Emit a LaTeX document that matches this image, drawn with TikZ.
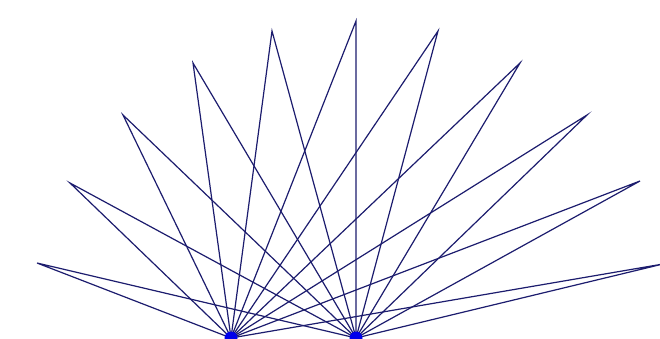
\documentclass[tikz,border=0pt]{standalone}
\definecolor{linecol}{RGB}{28,28,110}
\definecolor{dotcol}{RGB}{0,0,235}
\tikzset{
  ray/.style={draw=linecol, line width=1.2pt},
  basedot/.style={circle, fill=dotcol, inner sep=0pt, minimum size=13pt}
}
\begin{document}
\begin{tikzpicture}[x=1pt,y=-1pt]
\useasboundingbox (0,0) rectangle (660,339);
\fill[white] (0,0) rectangle (660,339);
\coordinate (L) at (231,338);
\coordinate (R) at (356,338);
\coordinate (a1) at (37,263);
\coordinate (a2) at (70,183);
\coordinate (a3) at (123,115);
\coordinate (a4) at (193,63);
\coordinate (a5) at (272,31);
\coordinate (a6) at (356,21);
\coordinate (a7) at (438,31);
\coordinate (a8) at (520,63);
\coordinate (a9) at (587,115);
\coordinate (a10) at (640,181);
\coordinate (a11) at (663,264);
\foreach \i in {1,...,11}{
  \draw[ray] (L) -- (a\i) -- (R);
}
\node[basedot] (dL) at (L) {};
\node[basedot] (dR) at (R) {};
\end{tikzpicture}
\end{document}
